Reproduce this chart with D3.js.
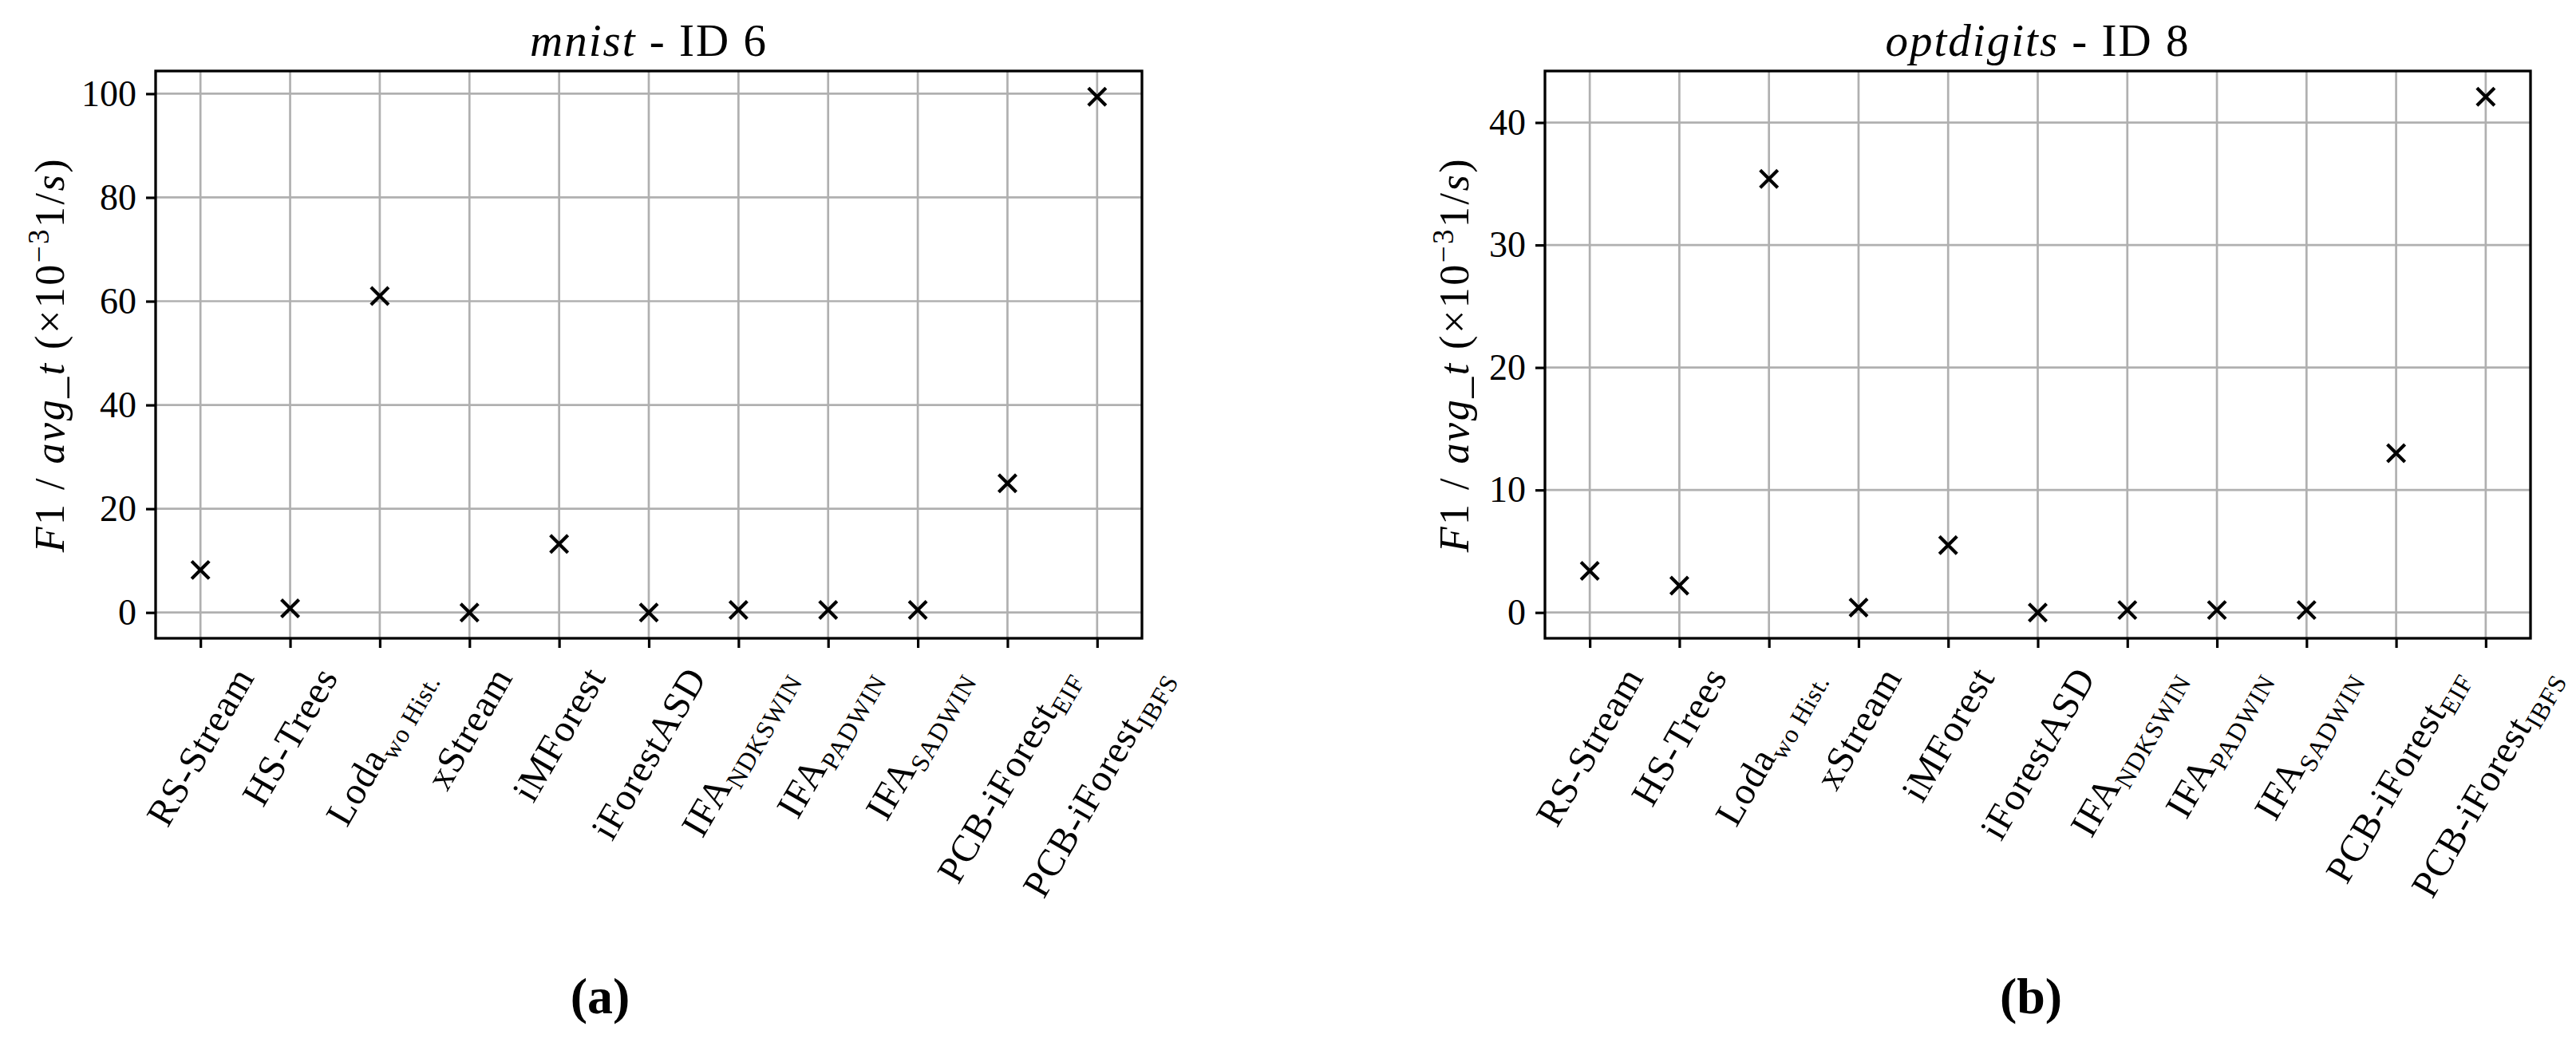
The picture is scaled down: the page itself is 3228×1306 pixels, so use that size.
<!DOCTYPE html>
<html>
<head>
<meta charset="utf-8">
<script src="https://cdn.jsdelivr.net/npm/d3@7"></script>
<style>
  body { margin: 0; background: #fff; }
  text { font-family: "Liberation Serif", "DejaVu Serif", serif; fill: #000; }
</style>
</head>
<body>
<div id="chart"></div>
<script>
// données
const methodNames = ["RS-Stream", "HS-Trees", "Loda", "xStream", "iMForest", "iForestASD",
  "IFA", "IFA", "IFA", "PCB-iForest", "PCB-iForest"];
const methodSubs = ["", "", "wo Hist.", "", "", "", "NDKSWIN", "PADWIN", "SADWIN", "EIF", "IBFS"];

const mnistValues = [8.2, 0.8, 61.0, 0.0, 13.2, 0.0, 0.5, 0.5, 0.5, 24.9, 99.4];
const optdigitsValues = [3.4, 2.2, 35.4, 0.4, 5.5, 0.0, 0.2, 0.2, 0.2, 13.0, 42.1];

const mnistTicks = [0, 20, 40, 60, 80, 100];
const optdigitsTicks = [0, 10, 20, 30, 40];

const panels = [
  { name: "mnist", id: "ID 6", caption: "(a)", values: mnistValues, ticks: mnistTicks,
    left: 195, right: 1431, labelX: 62, captionX: 752 },
  { name: "optdigits", id: "ID 8", caption: "(b)", values: optdigitsValues, ticks: optdigitsTicks,
    left: 1936, right: 3171, labelX: 1822, captionX: 2545 }
];

const W = 3228, H = 1306;
const plotTop = 89, plotBottom = 800;
const tickFont = 46;
const xLabelFont = 48;

const svg = d3.select("#chart").append("svg")
  .attr("width", W).attr("height", H)
  .style("background", "#fff");

panels.forEach(function (p) {
  const g = svg.append("g");

  // marge de 5% comme matplotlib
  const vmin = d3.min(p.values), vmax = d3.max(p.values);
  const m = (vmax - vmin) * 0.05;
  const y = d3.scaleLinear().domain([vmin - m, vmax + m]).range([plotBottom, plotTop]);

  const x = d3.scalePoint()
    .domain(d3.range(p.values.length))
    .range([p.left, p.right])
    .padding(0.5);

  // grille
  g.selectAll(".vgrid").data(x.domain()).enter().append("line")
    .attr("x1", d => x(d)).attr("x2", d => x(d))
    .attr("y1", plotTop).attr("y2", plotBottom)
    .style("stroke", "#b0b0b0").style("stroke-width", 2.7);
  g.selectAll(".hgrid").data(p.ticks).enter().append("line")
    .attr("x1", p.left).attr("x2", p.right)
    .attr("y1", d => y(d)).attr("y2", d => y(d))
    .style("stroke", "#b0b0b0").style("stroke-width", 2.7);

  // axe y
  const yAxis = g.append("g")
    .attr("transform", "translate(" + p.left + ",0)")
    .call(d3.axisLeft(y).tickValues(p.ticks).tickSize(12).tickPadding(12).tickFormat(d3.format("d")));
  yAxis.select(".domain").remove();
  yAxis.selectAll("line").style("stroke", "#000").style("stroke-width", 3.2);
  yAxis.selectAll("text").style("font-size", tickFont + "px")
    .style("font-family", "Liberation Serif");

  // axe x (ticks seulement)
  const xAxis = g.append("g")
    .attr("transform", "translate(0," + plotBottom + ")")
    .call(d3.axisBottom(x).tickSize(12).tickFormat(""));
  xAxis.select(".domain").remove();
  xAxis.selectAll("line").style("stroke", "#000").style("stroke-width", 3.2);

  // étiquettes x tournées de 60°
  x.domain().forEach(function (i) {
    const t = g.append("text")
      .attr("text-anchor", "middle")
      .style("font-size", xLabelFont + "px")
      .style("letter-spacing", "1px");
    t.append("tspan").text(methodNames[i]);
    if (methodSubs[i]) {
      t.append("tspan").attr("dy", 10).style("font-size", "32px").text(methodSubs[i]);
    }
    const L = t.node().getComputedTextLength();
    const h = xLabelFont * 1.05;
    const a = Math.PI / 3;
    const bh = L * Math.sin(a) + h * Math.cos(a);
    const cx = x(i), cy = 828 + bh / 2;
    t.attr("dy", "0.33em")
      .attr("transform", "translate(" + cx + "," + cy + ") rotate(-60)");
  });

  // points
  const r = 11;
  const marks = g.selectAll(".mark").data(p.values).enter().append("g")
    .attr("transform", (d, i) => "translate(" + x(i) + "," + y(d) + ")");
  marks.append("path")
    .attr("d", "M" + -r + "," + -r + "L" + r + "," + r + "M" + -r + "," + r + "L" + r + "," + -r)
    .style("stroke", "#000").style("stroke-width", 4.2).style("fill", "none");

  // cadre
  g.append("rect")
    .attr("x", p.left).attr("y", plotTop)
    .attr("width", p.right - p.left).attr("height", plotBottom - plotTop)
    .style("fill", "none").style("stroke", "#000").style("stroke-width", 3.3);

  // titre
  const title = g.append("text")
    .attr("x", (p.left + p.right) / 2).attr("y", 70)
    .attr("text-anchor", "middle")
    .style("font-size", "57px")
    .style("letter-spacing", "2px");
  title.append("tspan").style("font-style", "italic").text(p.name);
  title.append("tspan").text(" - " + p.id);

  // label y
  const yl = g.append("text")
    .attr("transform", "translate(" + p.labelX + "," + (plotTop + plotBottom) / 2 + ") rotate(-90)")
    .attr("text-anchor", "middle")
    .attr("dy", "0.35em")
    .style("font-size", "52px")
    .style("letter-spacing", "2.5px");
  yl.append("tspan").style("font-style", "italic").text("F");
  yl.append("tspan").text("1 / ");
  yl.append("tspan").style("font-style", "italic").text("avg");
  yl.append("tspan").text("_");
  yl.append("tspan").style("font-style", "italic").text("t");
  yl.append("tspan").text(" (\u00d710");
  yl.append("tspan").attr("dy", -19).style("font-size", "37px").text("\u22123");
  yl.append("tspan").attr("dy", 19).text("1/");
  yl.append("tspan").style("font-style", "italic").text("s");
  yl.append("tspan").text(")");

  // légende de sous-figure
  svg.append("text")
    .attr("x", p.captionX).attr("y", 1270)
    .attr("text-anchor", "middle")
    .style("font-size", "64px")
    .style("font-weight", "bold")
    .text(p.caption);
});
</script>
</body>
</html>
